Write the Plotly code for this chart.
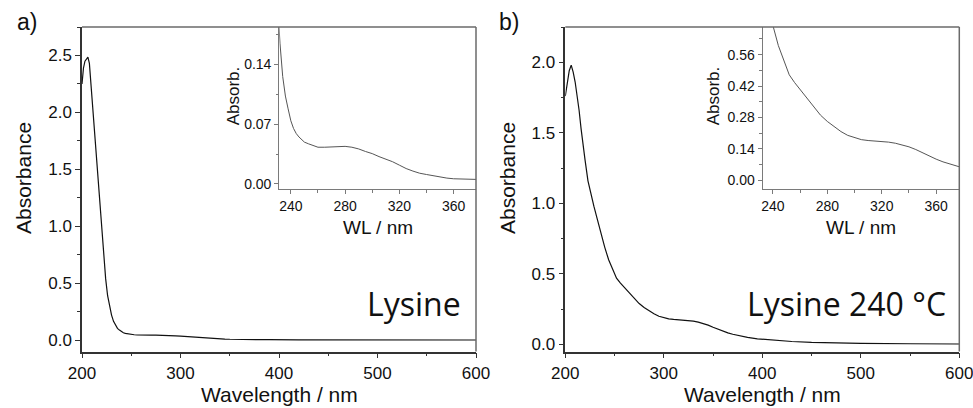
import plotly.graph_objects as go

W, H = 973, 408

# ---------------- data ----------------
wl_lysine = [200, 201.5, 203, 205, 206, 207.5, 209, 210.5, 212, 214, 216, 218, 220, 222, 224,
             226, 228, 230, 232, 234, 236, 238, 240, 242, 244, 246, 248, 250, 253, 256, 260,
             265, 270, 275, 280, 285, 290, 295, 300, 305, 310, 315, 320, 325, 330, 335, 340,
             345, 350, 355, 360, 365, 370, 376, 390, 420, 450, 500, 550, 600]
abs_lysine = [2.25, 2.39, 2.45, 2.48, 2.485, 2.43, 2.25, 2.08, 1.92, 1.70, 1.46, 1.22, 1.00, 0.76, 0.54,
              0.39, 0.29, 0.22, 0.165, 0.126, 0.103, 0.088, 0.074, 0.065, 0.059, 0.055, 0.052, 0.049, 0.047, 0.045, 0.043,
              0.043, 0.0435, 0.044, 0.044, 0.043, 0.041, 0.038, 0.0355, 0.032, 0.029, 0.026, 0.022, 0.018, 0.015, 0.0125, 0.011,
              0.0095, 0.0078, 0.0068, 0.006, 0.0055, 0.005, 0.0045, 0.0035, 0.0025, 0.002, 0.0015, 0.001, 0.0008]

wl_lys240 = [200, 202, 204, 206, 208, 210, 212, 214, 216, 218, 220, 223, 226, 229, 232, 236, 240,
             244, 248, 252, 256, 260, 265, 270, 275, 280, 285, 290, 295, 300, 305, 310, 315, 320,
             325, 330, 335, 340, 345, 350, 355, 360, 365, 370, 377, 385, 395, 410, 430, 450, 475,
             500, 550, 600]
abs_lys240 = [1.76, 1.86, 1.94, 1.98, 1.93, 1.86, 1.77, 1.66, 1.53, 1.40, 1.31, 1.16, 1.06, 0.98, 0.90, 0.79, 0.69,
              0.60, 0.53, 0.47, 0.435, 0.405, 0.365, 0.325, 0.29, 0.262, 0.238, 0.217, 0.200, 0.189, 0.181, 0.177, 0.175, 0.173,
              0.170, 0.165, 0.158, 0.149, 0.137, 0.122, 0.107, 0.094, 0.082, 0.072, 0.060, 0.050, 0.040, 0.030, 0.021, 0.015, 0.011,
              0.008, 0.005, 0.003]

panel_labels = ["a)", "b)"]
sample_names = ["Lysine", "Lysine 240 °C"]
main_xticks = [200, 300, 400, 500, 600]
inset_xticks = [240, 280, 320, 360]
main_ytitle = "Absorbance"
main_xtitle = "Wavelength / nm"
inset_ytitle = "Absorb."
inset_xtitle = "WL / nm"

# ---------------- layout helpers (pixels -> paper) ----------------
def px(x):
    return x / W

def py(y):
    return (H - y) / H

FONT = "Liberation Sans, Arial, sans-serif"
AX = "#333333"
FR = "#6a6a6a"
INS = "#7a7a7a"

fig = go.Figure()
fig.add_trace(go.Scatter(x=wl_lysine, y=abs_lysine, mode="lines", xaxis="x", yaxis="y",
                         line=dict(color="#111111", width=1.2), showlegend=False))
fig.add_trace(go.Scatter(x=wl_lysine, y=abs_lysine, mode="lines", xaxis="x2", yaxis="y2",
                         line=dict(color="#555555", width=1.0), showlegend=False))
fig.add_trace(go.Scatter(x=wl_lys240, y=abs_lys240, mode="lines", xaxis="x3", yaxis="y3",
                         line=dict(color="#111111", width=1.2), showlegend=False))
fig.add_trace(go.Scatter(x=wl_lys240, y=abs_lys240, mode="lines", xaxis="x4", yaxis="y4",
                         line=dict(color="#555555", width=1.0), showlegend=False))

def main_x(domain, anchor):
    return dict(domain=domain, anchor=anchor, range=[200, 600], tickvals=main_xticks,
                automargin=False, ticklabeloverflow="allow",
                ticks="outside", ticklen=5, tickwidth=1.3, tickcolor=AX,
                showline=True, linecolor=AX, linewidth=1.5, showgrid=False, zeroline=False,
                minor=dict(dtick=50, tick0=200, ticks="outside", ticklen=3, tickcolor=AX, tickwidth=1.2),
                tickfont=dict(family=FONT, size=17, color="#111111"))

def main_y(domain, anchor, rng, tickvals):
    return dict(domain=domain, anchor=anchor, range=rng, tickvals=tickvals, tickformat=".1f",
                automargin=False, ticklabeloverflow="allow",
                ticks="outside", ticklen=5, tickwidth=1.3, tickcolor=AX,
                showline=True, linecolor=AX, linewidth=1.5, showgrid=False, zeroline=False,
                minor=dict(dtick=0.25, tick0=0, ticks="outside", ticklen=3, tickcolor=AX, tickwidth=1.2),
                tickfont=dict(family=FONT, size=17, color="#111111"))

def inset_x(domain, anchor, rng):
    return dict(domain=domain, anchor=anchor, range=rng, tickvals=inset_xticks,
                automargin=False, ticklabeloverflow="allow",
                ticks="outside", ticklen=4, tickwidth=1, tickcolor=INS,
                showline=True, linecolor=INS, linewidth=1.2, showgrid=False, zeroline=False,
                minor=dict(dtick=20, tick0=240, ticks="outside", ticklen=2.5, tickcolor=INS, tickwidth=1),
                tickfont=dict(family=FONT, size=14, color="#111111"))

def inset_y(domain, anchor, rng, tickvals, minor_dt):
    return dict(domain=domain, anchor=anchor, range=rng, tickvals=tickvals, tickformat=".2f",
                automargin=False, ticklabeloverflow="allow",
                ticks="outside", ticklen=4, tickwidth=1, tickcolor=INS,
                showline=True, linecolor=INS, linewidth=1.2, showgrid=False, zeroline=False,
                minor=dict(dtick=minor_dt, tick0=0, ticks="outside", ticklen=2.5, tickcolor=INS, tickwidth=1),
                tickfont=dict(family=FONT, size=14, color="#111111"))

A_x = [px(82), px(476)]
A_y = [py(351.5), py(27)]
B_x = [px(565.3), px(959.3)]
B_y = [py(351.5), py(27)]
IA_x = [px(279.3), px(476)]
IB_x = [px(762.7), px(959.3)]
I_y = [py(189), py(27)]

fig.update_layout(
    width=W, height=H, margin=dict(l=0, r=0, t=0, b=0, autoexpand=False),
    paper_bgcolor="white", plot_bgcolor="white",
    xaxis=main_x(A_x, "y"),
    yaxis=main_y(A_y, "x", [-0.1, 2.75], [0, 0.5, 1.0, 1.5, 2.0, 2.5]),
    xaxis2=inset_x(IA_x, "y2", [231.5, 376.5]),
    yaxis2=inset_y(I_y, "x2", [-0.006, 0.184], [0, 0.07, 0.14], 0.035),
    xaxis3=main_x(B_x, "y3"),
    yaxis3=main_y(B_y, "x3", [-0.05, 2.25], [0, 0.5, 1.0, 1.5, 2.0]),
    xaxis4=inset_x(IB_x, "y4", [232.5, 377]),
    yaxis4=inset_y(I_y, "x4", [-0.039, 0.683], [0, 0.14, 0.28, 0.42, 0.56], 0.07),
)

# frame (top + right) for the two main panels
shapes = []
for xr, yr in (("x", "y"), ("x3", "y3")):
    shapes.append(dict(type="line", xref=f"{xr} domain", yref=f"{yr} domain",
                       x0=0, x1=1, y0=1, y1=1, line=dict(color=FR, width=1.5)))
    shapes.append(dict(type="line", xref=f"{xr} domain", yref=f"{yr} domain",
                       x0=1, x1=1, y0=0, y1=1, line=dict(color=FR, width=1.5)))
fig.update_layout(shapes=shapes)

ann = []
# panel letters
for lab, xc in zip(panel_labels, (27, 508.5)):
    ann.append(dict(text=lab, x=px(xc), y=py(22), xref="paper", yref="paper",
                    xanchor="center", yanchor="middle", showarrow=False,
                    font=dict(family=FONT, size=23, color="#111111")))
# main axis titles
for xc in (23, 507):
    ann.append(dict(text=main_ytitle, x=px(xc), y=py(178), xref="paper", yref="paper",
                    xanchor="center", yanchor="middle", textangle=-90, showarrow=False,
                    font=dict(family=FONT, size=21, color="#111111")))
for xc in (279, 762):
    ann.append(dict(text=main_xtitle, x=px(xc), y=py(394), xref="paper", yref="paper",
                    xanchor="center", yanchor="middle", showarrow=False,
                    font=dict(family=FONT, size=21, color="#111111")))
# inset titles
for xc in (233.3, 713.3):
    ann.append(dict(text=inset_ytitle, x=px(xc), y=py(96), xref="paper", yref="paper",
                    xanchor="center", yanchor="middle", textangle=-90, showarrow=False,
                    font=dict(family=FONT, size=17, color="#111111")))
for xc in (377.5, 860.8):
    ann.append(dict(text=inset_xtitle, x=px(xc), y=py(227), xref="paper", yref="paper",
                    xanchor="center", yanchor="middle", showarrow=False,
                    font=dict(family=FONT, size=19, color="#111111")))
# sample names
for name, xr in zip(sample_names, (462.5, 947.5)):
    ann.append(dict(text=name, x=px(xr), y=py(303), xref="paper", yref="paper",
                    xanchor="right", yanchor="middle", showarrow=False,
                    font=dict(family="Open Sans, Noto Sans, sans-serif", size=32, color="#111111")))
fig.update_layout(annotations=ann)

fig.write_html("out.html", config={"displayModeBar": False},
               post_script="document.body.style.margin='0';document.body.style.padding='0';")
